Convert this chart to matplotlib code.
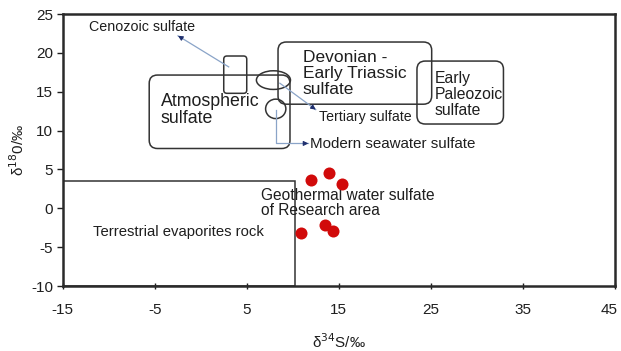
import numpy as np
import matplotlib
matplotlib.use("Agg")
import matplotlib.pyplot as plt
import matplotlib.transforms as mtransforms
from matplotlib.patches import FancyBboxPatch, Ellipse, Rectangle

plt.rcParams['font.family'] = ['Liberation Sans', 'DejaVu Sans']

# geothermal water samples (d34S, d18O)
sample_s34 = [12.0, 13.9, 15.4, 13.5, 14.4, 10.9]
sample_o18 = [3.7, 4.6, 3.1, -2.2, -2.9, -3.2]

# source fields: label, x0, x1, y0, y1, corner radius
fields = [
    ("Atmospheric", -5.6, 9.7, 7.7, 17.15, 0.9),
    ("Devonian", 8.4, 25.1, 13.4, 21.4, 0.9),
    ("Early Paleozoic", 23.5, 32.9, 10.85, 18.95, 0.9),
    ("Cenozoic", 2.5, 5.0, 14.8, 19.6, 0.35),
]
tertiary = (7.9, 16.5, 3.7, 2.4)      # centre x, centre y, width, height
seawater = (8.15, 12.8, 2.2, 2.5)
evaporite = (-15, 10.2, -10, 3.55)    # x0, x1, y0, y1

xticks = [-15, -5, 5, 15, 25, 35, 45]
yticks = [-10, -5, 0, 5, 10, 15, 20, 25]

fig = plt.figure(figsize=(6.21, 3.51), dpi=100)
ax = fig.add_axes([0.101, 0.185, 0.889, 0.775])
ax.set_xlim(-15, 45)
ax.set_ylim(-10, 25)

# aspect to keep the rounded corners round
asp = (35 / 272) / (60 / 552)
edge = '#333333'

for name, x0, x1, y0, y1, r in fields:
    p = FancyBboxPatch((x0, y0), x1 - x0, y1 - y0,
                       boxstyle=f"round,pad=0,rounding_size={r}",
                       mutation_aspect=asp, fc='none', ec=edge, lw=1.1)
    ax.add_patch(p)

ax.add_patch(Ellipse(tertiary[:2], tertiary[2], tertiary[3], fc='none', ec=edge, lw=1.1))
ax.add_patch(Ellipse(seawater[:2], seawater[2], seawater[3], fc='none', ec=edge, lw=1.1))
ax.add_patch(Rectangle((evaporite[0], evaporite[2]), evaporite[1] - evaporite[0],
                       evaporite[3] - evaporite[2], fc='none', ec=edge, lw=1.1))

line_c = '#8aa4c8'
head_c = '#1f2f6e'


def arrow(xs, ys):
    ax.plot(xs, ys, color=line_c, lw=0.9)
    dx = xs[-1] - xs[-2]
    dy = ys[-1] - ys[-2]
    n = np.hypot(dx * 9.2, dy * 7.77) / 5.0
    ax.annotate('', xy=(xs[-1], ys[-1]),
                xytext=(xs[-1] - dx / n, ys[-1] - dy / n),
                arrowprops=dict(arrowstyle='-|>', color=head_c, lw=0.8,
                                mutation_scale=7, shrinkA=0, shrinkB=0))


arrow([3.04, -2.47], [18.2, 22.2])
arrow([8.6, 12.5], [16.1, 12.7])
arrow([8.15, 8.15, 11.7], [12.6, 8.35, 8.35])

ax.scatter(sample_s34, sample_o18, s=75, color='#d10a0a', zorder=5, lw=0)

tc = '#1e1e1e'
ax.text(-12.1, 23.3, "Cenozoic sulfate", fontsize=10.3, va='center', color=tc)
ax.text(-4.35, 12.65, "Atmospheric\nsulfate", fontsize=12.8, va='center',
        linespacing=1.0, color=tc)
ax.text(11.1, 17.35, "Devonian -\nEarly Triassic\nsulfate", fontsize=12.5,
        va='center', linespacing=1.08, color=tc)
ax.text(25.4, 14.65, "Early\nPaleozoic\nsulfate", fontsize=11.3, va='center',
        linespacing=1.12, color=tc)
ax.text(12.9, 11.7, "Tertiary sulfate", fontsize=10.2, va='center', color=tc)
ax.text(11.9, 8.3, "Modern seawater sulfate", fontsize=10.9, va='center', color=tc)
ax.text(6.6, 0.7, "Geothermal water sulfate\nof Research area", fontsize=11.2,
        va='center', linespacing=1.02, color=tc)
ax.text(-11.7, -3.1, "Terrestrial evaporites rock", fontsize=10.7, va='center', color=tc)

ax.set_xticks(xticks)
ax.set_yticks(yticks)
ax.set_xticklabels([str(t) for t in xticks])
ax.set_yticklabels([str(t) for t in yticks])
ax.tick_params(axis='x', direction='inout', length=5, width=1, labelsize=11,
               pad=10, colors=tc)
ax.tick_params(axis='y', direction='out', length=4, width=1, labelsize=11,
               pad=3, colors=tc)
# last x label sits at the figure edge; nudge it inside
last = ax.get_xticklabels()[-1]
last.set_transform(last.get_transform() +
                   mtransforms.ScaledTranslation(-4 / 72, 0, fig.dpi_scale_trans))
for s in ax.spines.values():
    s.set_linewidth(1.8)
    s.set_color('#2a2a2a')

ax.set_xlabel("\u03b4$^{34}$S/\u2030", fontsize=11, labelpad=11, color=tc)
ax.set_ylabel("\u03b4$^{18}$0/\u2030", fontsize=11, labelpad=3, color=tc)

fig.savefig("out.png", dpi=100)
